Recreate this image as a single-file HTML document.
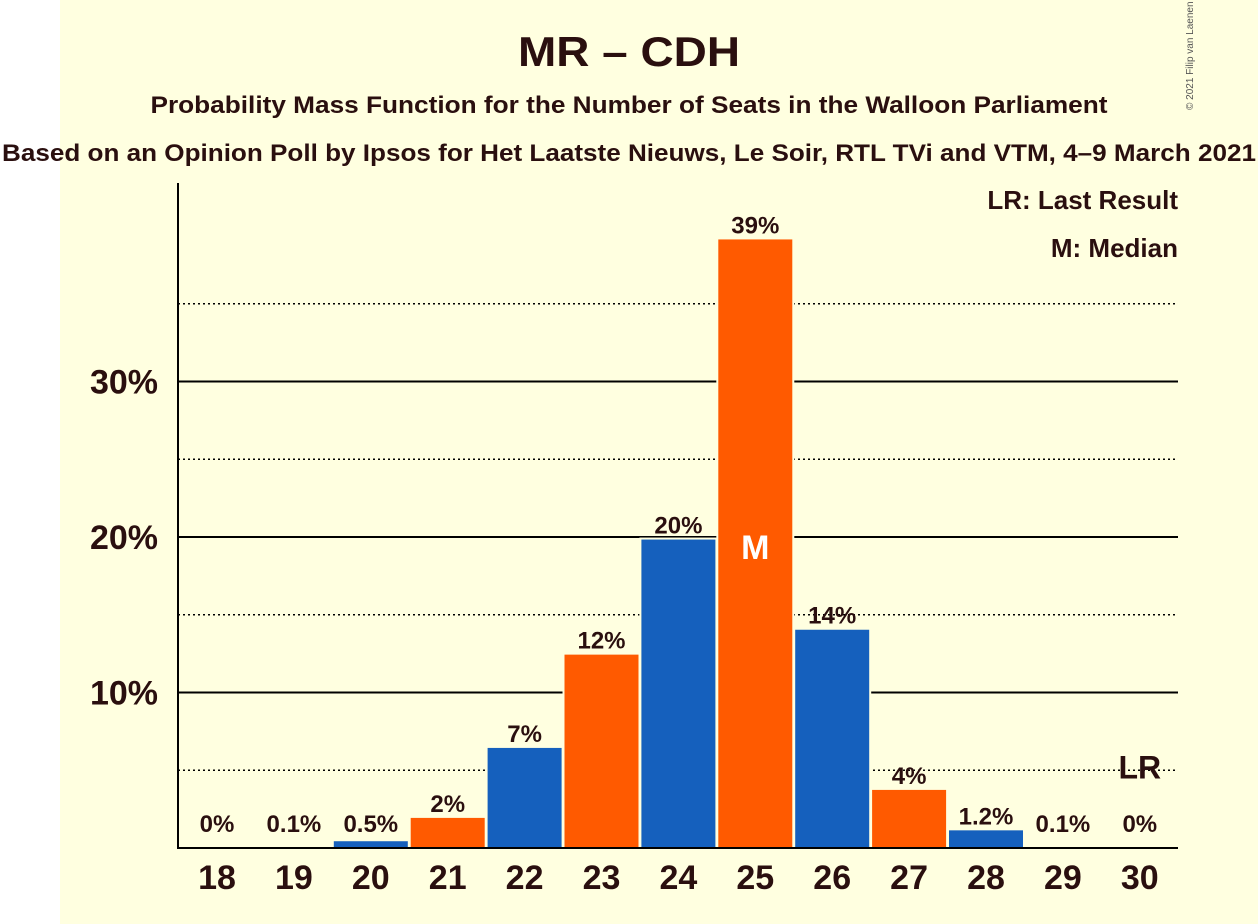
<!DOCTYPE html>
<html><head><meta charset="utf-8"><style>
html,body{margin:0;padding:0;background:#fff}
svg{display:block;font-family:"Liberation Sans",sans-serif}
</style></head><body>
<svg id="chart" width="1258" height="924">
<rect x="60" y="0" width="1198" height="924" fill="#FFFFE0"/>
<text x="629" y="66" text-anchor="middle" font-size="42" font-weight="bold" fill="#2a0f0f" textLength="222" lengthAdjust="spacingAndGlyphs">MR – CDH</text>
<text x="629" y="113" text-anchor="middle" font-size="24" font-weight="bold" fill="#2a0f0f" textLength="957" lengthAdjust="spacingAndGlyphs">Probability Mass Function for the Number of Seats in the Walloon Parliament</text>
<text x="629" y="161" text-anchor="middle" font-size="24" font-weight="bold" fill="#2a0f0f" textLength="1254" lengthAdjust="spacingAndGlyphs">Based on an Opinion Poll by Ipsos for Het Laatste Nieuws, Le Soir, RTL TVi and VTM, 4–9 March 2021</text>
<text x="1193" y="110" font-size="10" fill="#555" transform="rotate(-90 1193 110)">© 2021 Filip van Laenen</text>
<text x="1178" y="209" text-anchor="end" font-size="26" font-weight="bold" fill="#2a0f0f">LR: Last Result</text>
<text x="1178" y="257" text-anchor="end" font-size="26" font-weight="bold" fill="#2a0f0f">M: Median</text>
<g id="grid"></g>
<g id="bars"></g>
<line x1="178" y1="183" x2="178" y2="849" stroke="#000" stroke-width="2"/>
<line x1="177" y1="848" x2="1178" y2="848" stroke="#000" stroke-width="2"/>
</svg>
<script>
const categories=[18,19,20,21,22,23,24,25,26,27,28,29,30];
const values=[0,0.1,0.5,2.0,6.5,12.5,19.9,39.2,14.1,3.8,1.2,0.1,0];
const valueLabels=["0%","0.1%","0.5%","2%","7%","12%","20%","39%","14%","4%","1.2%","0.1%","0%"];
const majorTicks=[10,20,30];
const minorTicks=[5,15,25,35];
const medianSeat=25;
const lastResultSeat=30;
const NS="http://www.w3.org/2000/svg";
const y=v=>848-v*15.55;
const x=c=>217+(c-18)*76.9;
const grid=document.getElementById('grid'),bars=document.getElementById('bars');
function mk(tag,attrs,parent){const e=document.createElementNS(NS,tag);for(const k in attrs)e.setAttribute(k,attrs[k]);parent.appendChild(e);return e;}
minorTicks.forEach(t=>{const l=mk('line',{x1:178,x2:1178,y1:y(t),y2:y(t),stroke:'#000','stroke-width':1.5,'stroke-dasharray':'2,3'},grid);

});
majorTicks.forEach(t=>{const l=mk('line',{x1:178,x2:1178,y1:y(t),y2:y(t),stroke:'#000','stroke-width':2},grid);


const tx=mk('text',{x:158,y:y(t)+12,'text-anchor':'end','font-size':34,'font-weight':'bold',fill:'#2a0f0f'},grid);tx.textContent=t+'%';

});
categories.forEach((c,i)=>{const v=values[i];const cx=x(c);
if(v>0){const r=mk('rect',{x:cx-38,y:y(v),width:76,height:848-y(v),fill:i%2==0?'#1560BD':'#FF5A00',stroke:'#FFFFE0','stroke-width':2},bars);

}
const ly=v>=1?y(v)-14:823;
const t=mk('text',{x:cx,y:ly+9,'text-anchor':'middle','font-size':24,'font-weight':'bold',fill:'#2a0f0f'},bars);t.textContent=valueLabels[i];


const xt=mk('text',{x:cx,y:877+12,'text-anchor':'middle','font-size':34,'font-weight':'bold',fill:'#2a0f0f'},bars);xt.textContent=c;


if(c===medianSeat){const m=mk('text',{x:cx,y:y(20)+22,'text-anchor':'middle','font-size':34,'font-weight':'bold',fill:'#fff'},bars);m.textContent='M';

}
if(c===lastResultSeat){const m=mk('text',{x:cx,y:y(5)+8,'text-anchor':'middle','font-size':32,'font-weight':'bold',fill:'#2a0f0f'},bars);m.textContent='LR';

}
});
</script>
</body></html>
